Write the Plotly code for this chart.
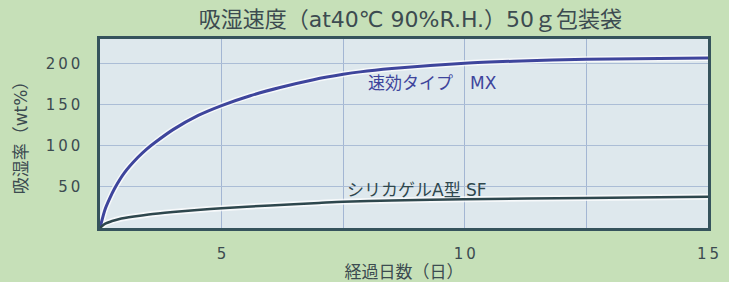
import plotly.graph_objects as go

# ---- data ----
mx_days = [2.5, 2.6, 2.7, 2.8, 3.0, 3.28, 3.46, 3.63, 4.01, 4.52, 5.0, 5.59, 6.2, 6.89,
           7.5, 7.85, 8.5, 10.0, 11.0, 12.5, 15.0]
mx_vals = [0, 22, 36, 48, 67, 86, 96, 104, 120, 137, 149, 161, 171, 180.5,
           187, 190, 194, 200.5, 203, 205.5, 207]

sf_days = [2.5, 2.6, 2.75, 2.9, 3.2, 3.5, 4.0, 4.5, 5.0, 6.0, 7.0, 7.5, 8.5, 10.0, 12.5, 15.0]
sf_vals = [0, 5, 8.5, 11, 14, 16.5, 19.5, 22, 24, 27.5, 30.5, 32, 33.5, 35, 36.5, 38]

x_tickvals = [2.5, 5, 7.5, 10, 12.5, 15]
x_ticktext = ["", "5", "", "1\u20090", "", "1\u20095"]
y_tickvals = [50, 100, 150, 200]
y_ticktext = ["5\u20090", "1\u20090\u20090", "1\u20095\u20090", "2\u20090\u20090"]

title_text = "吸湿速度（at40℃ 90%R.H.）50ｇ包装袋"
x_title = "経過日数（日）"
y_title = "吸湿率（wt%）"
mx_label = "速効タイプ\u2003MX"
sf_label = "シリカゲルA型 SF"

FONT = "DejaVu Sans, Noto Sans CJK JP, sans-serif"
TXT = "#3c4b50"
MX_COL = "#3e459c"
SF_COL = "#2e474d"

fig = go.Figure()
# soft white halos under curves
for xs, ys in [(mx_days, mx_vals), (sf_days, sf_vals)]:
    fig.add_trace(go.Scatter(x=xs, y=ys, mode="lines",
                             line=dict(color="rgba(255,255,255,0.75)", width=6, shape="spline", smoothing=0.7),
                             hoverinfo="skip", showlegend=False))
fig.add_trace(go.Scatter(x=mx_days, y=mx_vals, mode="lines",
                         line=dict(color=MX_COL, width=3, shape="spline", smoothing=0.7), showlegend=False))
fig.add_trace(go.Scatter(x=sf_days, y=sf_vals, mode="lines",
                         line=dict(color=SF_COL, width=2.5, shape="spline", smoothing=0.7), showlegend=False))

fig.add_annotation(x=9.33, y=177, text=mx_label, showarrow=False,
                   font=dict(family=FONT, size=17, color=MX_COL), xanchor="center", yanchor="middle")
fig.add_annotation(x=9.02, y=46, text=sf_label, showarrow=False,
                   font=dict(family=FONT, size=17, color=SF_COL), xanchor="center", yanchor="middle")

fig.update_layout(
    width=729, height=282,
    margin=dict(l=100, r=21, t=39, b=54),
    paper_bgcolor="#c6e0b8",
    plot_bgcolor="#dee8ed",
    font=dict(family=FONT, color=TXT),
    title=dict(text=title_text, x=0.563, xanchor="center", y=0.93, yanchor="middle",
               font=dict(family=FONT, size=22, color=TXT)),
    showlegend=False,
)
fig.update_xaxes(
    range=[2.5, 15], tickmode="array", tickvals=x_tickvals, ticktext=x_ticktext,
    showgrid=True, gridcolor="#a3b6d3", gridwidth=1,
    showline=True, linecolor="#35535c", linewidth=2.5, mirror=True,
    ticks="", ticklabelstandoff=10, tickfont=dict(family=FONT, size=15, color=TXT),
    title=dict(text=x_title, font=dict(family=FONT, size=17, color=TXT), standoff=3),
    zeroline=False, automargin=False,
)
fig.update_yaxes(
    range=[0, 230], tickmode="array", tickvals=y_tickvals, ticktext=y_ticktext,
    showgrid=True, gridcolor="#abbdd6", gridwidth=1,
    showline=True, linecolor="#35535c", linewidth=2.5, mirror=True,
    ticks="", ticklabelstandoff=14, tickfont=dict(family=FONT, size=15, color=TXT),
    title=dict(text=y_title, font=dict(family=FONT, size=17, color=TXT), standoff=14),
    zeroline=False, automargin=False,
)

fig.write_html("out.html", config={"displayModeBar": False},
               post_script="document.body.style.margin='0';")
